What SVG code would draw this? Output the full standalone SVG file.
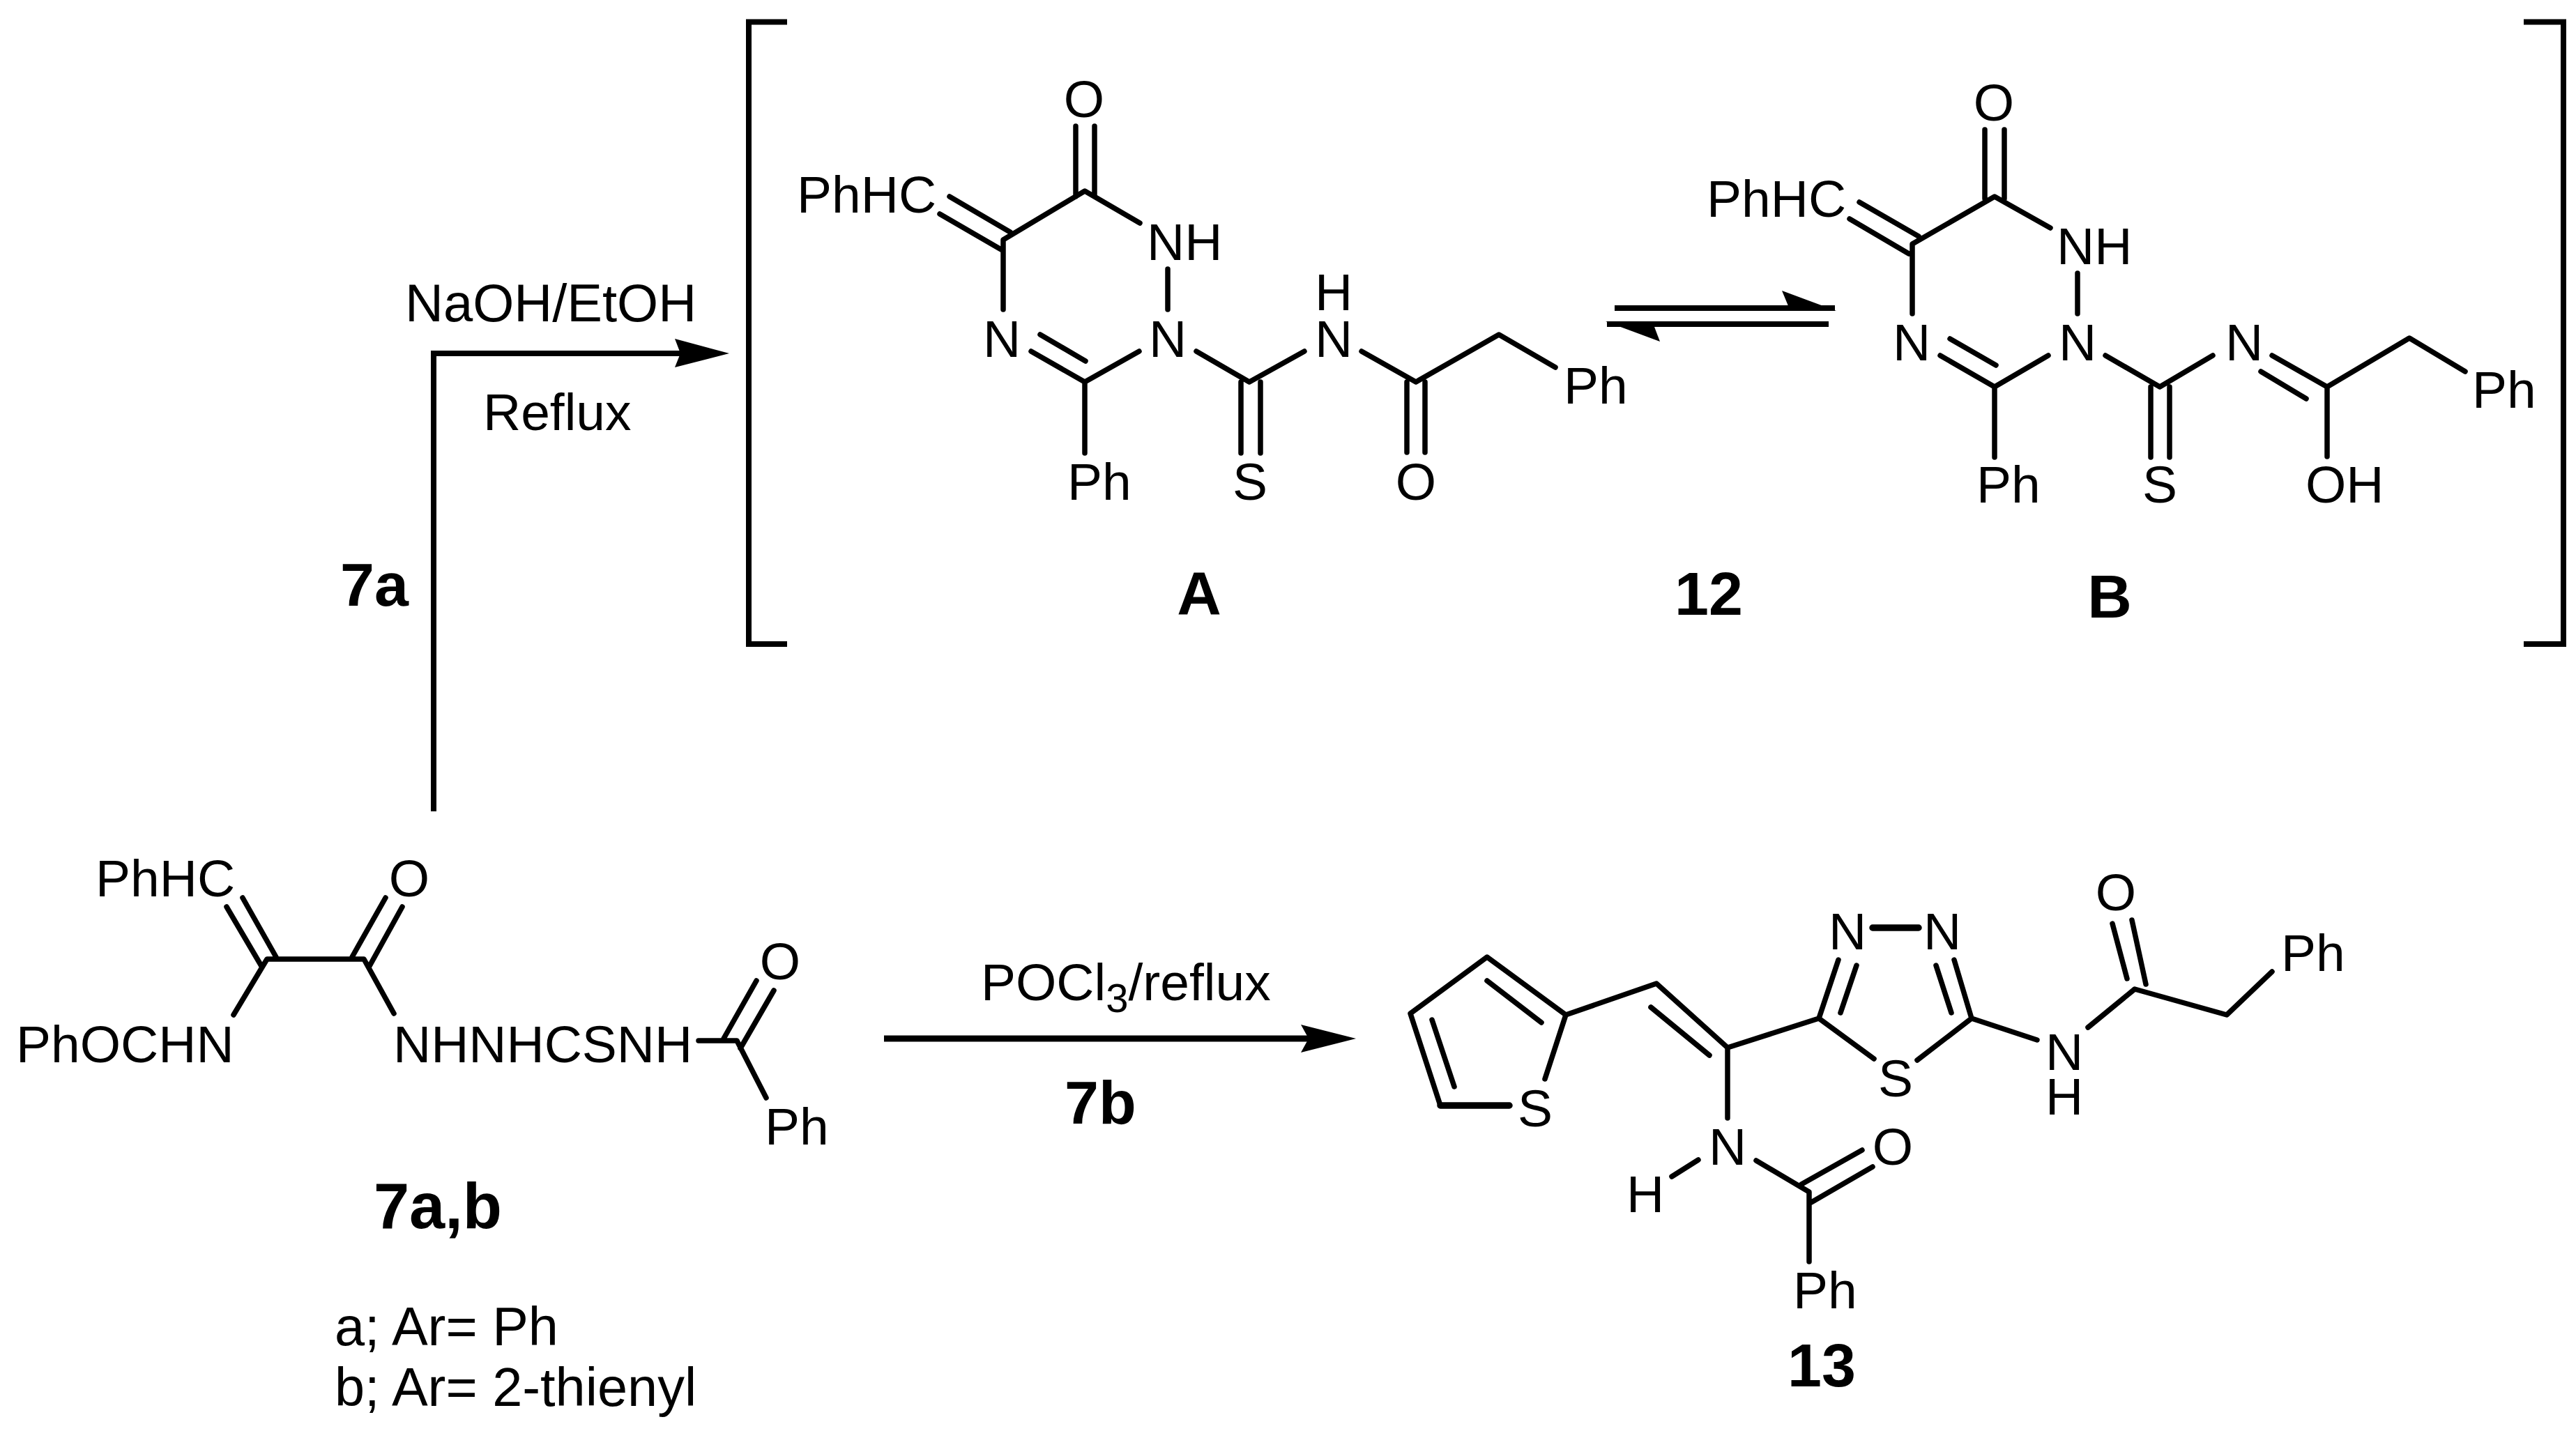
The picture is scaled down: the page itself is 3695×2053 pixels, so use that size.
<svg xmlns="http://www.w3.org/2000/svg" width="3695" height="2053" viewBox="0 0 3695 2053">
<style>
text{font-family:"Liberation Sans",Arial,sans-serif;font-size:75px;fill:#000}
.c{text-anchor:middle}
.b{font-weight:bold;font-size:88px}
.n{font-size:77.500px}
.s{font-size:58px}
path.l{fill:none;stroke:#000;stroke-width:7.500;stroke-linecap:round;stroke-linejoin:round}
path.h{fill:none;stroke:#000;stroke-width:9.500;stroke-linecap:round}
path.w{fill:none;stroke:#000;stroke-width:8}
</style>
<rect width="3695" height="2053" fill="#fff"/>
<g id="connectors">
<path class="w" d="M622 1164V507H985"/>
<polygon points="1046,507 968,486 976,507 968,527"/>
<path class="w" d="M1268 1490H1880" style="stroke-width:9"/>
<polygon points="1945,1490 1866,1470 1877,1490 1866,1510"/>
<path class="w" d="M2316 442H2632M2305 465H2623"/>
<polygon points="2634,446 2556,417 2568,446"/>
<polygon points="2303,461 2381,490 2370,461"/>
<path class="w" d="M1129 31.500H1074V924H1129M3620 31.500H3677V924H3620"/>
</g>
<g id="compound-A">
<path class="l" d="M1543 181V282M1570 181V282M1635 320L1556 274L1439 344V444M1362 282L1449 333M1348 307L1436 358M1675 386V444M1479 504L1556 548L1634 504M1492 480L1557 518M1556 548V650M1716 504L1792 548L1871 504M1780 548V650M1808 548V650M1953 504L2031 548L2150 480L2231 527M2018 548V649M2044 548V649"/>
<text class="c" x="1555" y="168">O</text>
<text x="1143" y="305">PhHC</text>
<text x="1645" y="373">NH</text>
<text class="c" x="1675" y="512">N</text>
<text class="c" x="1437" y="512">N</text>
<text x="1531" y="717">Ph</text>
<text class="c" x="1793" y="717">S</text>
<text class="c" x="1913" y="445">H</text>
<text class="c" x="1913" y="512">N</text>
<text x="2243" y="579">Ph</text>
<text class="c" x="2031" y="717">O</text>
<text class="c b" x="1720" y="881">A</text>
</g>
<g id="compound-B">
<path class="l" d="M2847 186V285M2875 186V285M2941 327L2861 282L2743 350V450M2667 290L2752 339M2653 314L2738 364M2980 392V450M2783 510L2861 555L2938 510M2797 486L2863 524M2861 555V656M3020 510L3098 555L3174 510M3085 555V656M3112 555V656M3259 510L3338 555L3456 485L3536 533M3243 533L3308 572M3338 555V655"/>
<text class="c" x="2860" y="173">O</text>
<text x="2448" y="311">PhHC</text>
<text x="2950" y="379">NH</text>
<text class="c" x="2980" y="517">N</text>
<text class="c" x="2742" y="517">N</text>
<text x="2835" y="721">Ph</text>
<text class="c" x="3098" y="721">S</text>
<text class="c" x="3219" y="517">N</text>
<text x="3546" y="585">Ph</text>
<text x="3307" y="721">OH</text>
<text class="c b" x="3026" y="886">B</text>
</g>
<g id="label-12"><text class="c b" x="2451" y="882">12</text></g>
<g id="compound-7ab">
<path class="l" d="M348 1288L396 1373M325 1301L375 1386M335 1456L383 1376H522L565 1454M553 1288L505 1373M577 1301L530 1386M1002 1493H1057L1099 1575M1085 1407L1038 1490M1110 1421L1062 1504"/>
<text x="137" y="1286">PhHC</text>
<text class="c" x="587" y="1286">O</text>
<text x="23" y="1524">PhOCHN</text>
<text x="564" y="1524">NHNHCSNH</text>
<text class="c" x="1119" y="1405">O</text>
<text x="1097" y="1642">Ph</text>
<text class="c b" x="628" y="1762" style="font-size:92px">7a,b</text>
<text class="n" x="480" y="1930">a; Ar= Ph</text>
<text class="n" x="480" y="2017">b; Ar= 2-thienyl</text>
</g>
<g id="compound-13">
<path class="l" d="M2216 1548L2246 1456L2133 1373L2023 1454L2066 1586M2211 1467L2133 1407M2054 1463L2086 1559M2246 1456L2376 1411L2478 1503L2609 1461M2368 1445L2452 1514M2478 1503V1604M2436 1664L2398 1688M2519 1665L2595 1710V1810M2671 1650L2584 1699M2686 1674L2598 1725M2688 1519L2609 1461L2637 1377M2663 1385L2640 1453M2803 1377L2828 1461L2750 1521M2777 1385L2799 1453M2828 1461L2922 1492M2995 1474L3062 1419L3194 1456L3259 1394M3030 1325L3051 1404M3058 1320L3078 1412"/>
<path class="h" d="M2066 1586H2165M2686 1331H2752"/>
<text class="c" x="2202" y="1616">S</text>
<text class="c" x="2478" y="1671">N</text>
<text class="c" x="2360" y="1739">H</text>
<text class="c" x="2715" y="1671">O</text>
<text x="2572" y="1877">Ph</text>
<text class="c" x="2650" y="1362">N</text>
<text class="c" x="2786" y="1362">N</text>
<text class="c" x="2719" y="1573">S</text>
<text class="c" x="2961" y="1535">N</text>
<text class="c" x="2961" y="1599">H</text>
<text class="c" x="3035" y="1306">O</text>
<text x="3272" y="1393">Ph</text>
<text class="c b" x="2613" y="1989">13</text>
</g>
<g id="labels">
<text x="581" y="461" style="font-size:76px">NaOH/EtOH</text>
<text x="693" y="617">Reflux</text>
<text class="b" x="488" y="869">7a</text>
<text x="1407" y="1435">POCl<tspan class="s" dy="17">3</tspan><tspan dy="-17">/reflux</tspan></text>
<text class="b" x="1527" y="1612">7b</text>
</g>
</svg>
